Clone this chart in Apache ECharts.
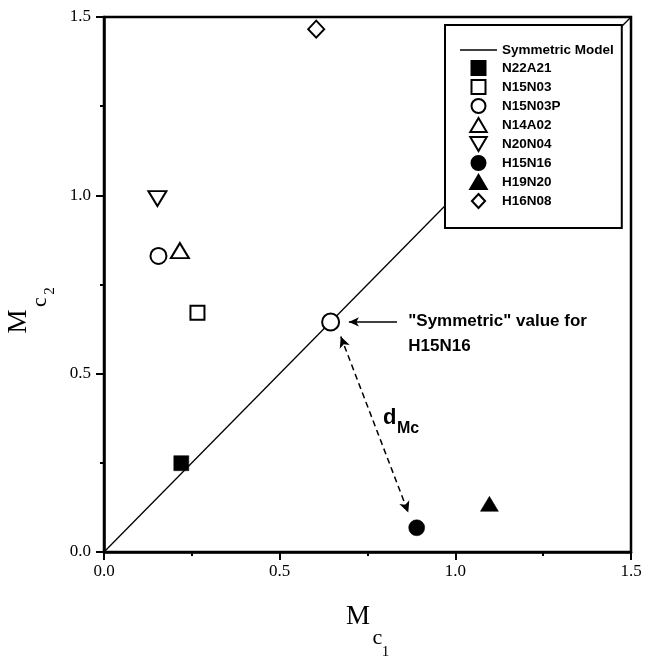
<!DOCTYPE html>
<html>
<head>
<meta charset="utf-8">
<script src="https://cdn.jsdelivr.net/npm/echarts@6/dist/echarts.min.js"></script>
<style>html,body{margin:0;padding:0;background:#fff}#c{width:645px;height:656px}</style>
</head>
<body>
<div id="c"></div>
<script>
// ---- data ----
const seriesNames = ['N22A21','N15N03','N15N03P','N14A02','N20N04','H15N16','H19N20','H16N08'];
const xValues = [0.220, 0.266, 0.155, 0.216, 0.152, 0.890, 1.097, 0.604];
const yValues = [0.249, 0.671, 0.830, 0.845, 0.991, 0.068, 0.135, 1.466];
const modelName = 'Symmetric Model';
const modelX = [0, 1.5];
const modelY = [0, 1.5];
const symmetricPoint = [0.645, 0.645];
const xTicks = [0, 0.5, 1.0, 1.5];
const yTicks = [0, 0.5, 1.0, 1.5];
const annotationTexts = ['"Symmetric" value for\nH15N16', 'd', 'Mc'];
const annotationX = [0.866, 0.794, 0.834];
const annotationY = [0.613, 0.377, 0.346];
const hArrowFrom = [0.834, 0.645];
const hArrowTo = [0.697, 0.645];
const dArrowFrom = [0.674, 0.604];
const dArrowTo = [0.866, 0.111];

// ---- styles ----
const PATH_SQUARE = 'path://M0,0L10,0L10,10L0,10Z';
const PATH_UP = 'path://M10,0L20,17L0,17Z';
const PATH_DOWN = 'path://M0,0L20,0L10,17Z';
const PATH_DIAMOND = 'path://M8,0L16,8.5L8,17L0,8.5Z';
const styles = {
  'N22A21': {symbol:'rect', icon:PATH_SQUARE, size:15, fill:'#000'},
  'N15N03': {symbol:'rect', icon:PATH_SQUARE, size:14, fill:'#fff'},
  'N15N03P': {symbol:'circle', icon:'circle', size:16, fill:'#fff'},
  'N14A02': {symbol:PATH_UP, icon:PATH_UP, size:[18,15], fill:'#fff'},
  'N20N04': {symbol:PATH_DOWN, icon:PATH_DOWN, size:[18,15], fill:'#fff'},
  'H15N16': {symbol:'circle', icon:'circle', size:16, fill:'#000'},
  'H19N20': {symbol:PATH_UP, icon:PATH_UP, size:[18,15], fill:'#000'},
  'H16N08': {symbol:PATH_DIAMOND, icon:PATH_DIAMOND, size:[16,17], fill:'#fff'}
};

const chart = echarts.init(document.getElementById('c'), null, {renderer:'canvas'});
const serif = '"Liberation Serif","Times New Roman",serif';
const sans = '"Liberation Sans",Arial,sans-serif';

const series = [];
series.push({
  name: modelName, type:'line', data: modelX.map((x,i)=>[x, modelY[i]]),
  symbol:'none', itemStyle:{color:'#000'}, lineStyle:{color:'#000', width:1.3}, z:2, silent:true
});
seriesNames.forEach((n,i)=>{
  const st = styles[n];
  const s = {
    name:n, type:'scatter', data:[[xValues[i], yValues[i]]],
    symbol:st.symbol, symbolSize:st.size,
    itemStyle:{color:st.fill, borderColor:'#000', borderWidth: st.fill==='#fff'?2:0.5, opacity:1},
    z:5, silent:true
  };
  if (n === 'H15N16') {
    s.markLine = {
      silent:true, animation:false,
      symbol:['arrow','arrow'], symbolSize:[8,11],
      label:{show:false},
      lineStyle:{color:'#000', width:1.5, type:[6,4], opacity:1},
      data:[[{coord:dArrowFrom},{coord:dArrowTo}]]
    };
  }
  series.push(s);
});
series.push({
  name:'symmetric', type:'scatter', data:[symmetricPoint],
  symbol:'circle', symbolSize:17,
  itemStyle:{color:'#fff', borderColor:'#000', borderWidth:2, opacity:1}, z:6, silent:true,
  markLine:{
    silent:true, animation:false,
    symbol:['none','arrow'], symbolSize:[7,10],
    label:{show:false},
    lineStyle:{color:'#000', width:1.5, type:'solid', opacity:1},
    data:[[{coord:hArrowFrom},{coord:hArrowTo}]]
  }
});
const annFont = [17, 22, 16];
series.push({
  name:'annotations', type:'scatter', silent:true, symbolSize:0,
  itemStyle:{color:'#000', opacity:1}, z:7,
  data: annotationTexts.map((t,i)=>({
    value:[annotationX[i], annotationY[i]],
    label:{show:true, position:'right', distance:0, formatter:t, opacity:1,
      fontFamily:sans, fontSize:annFont[i], fontWeight:'bold', lineHeight: i===0?25:annFont[i], color:'#000', align:'left'}
  }))
});

const axisCommon = {
  type:'value', min:0, max:1.5, interval:0.5,
  axisLine:{show:true, onZero:false, lineStyle:{color:'#000', width:2.5}},
  axisTick:{show:true, inside:false, length:8, lineStyle:{color:'#000', width:2}},
  minorTick:{show:true, splitNumber:2, length:4, lineStyle:{color:'#000', width:2}},
  splitLine:{show:false}, minorSplitLine:{show:false},
  axisLabel:{fontFamily:serif, fontSize:17, color:'#000',
    formatter:(v)=>v.toFixed(1)}
};

const legendData = [{name:modelName, icon:'path://M0,0L37,0L37,1.3L0,1.3Z'}].concat(
  seriesNames.map(n=>({name:n, icon:styles[n].icon})));

chart.setOption({
  animation:false,
  backgroundColor:'#fff',
  grid:{left:104, top:17, width:527, height:535, show:true, borderColor:'#000', borderWidth:2.5, backgroundColor:'transparent'},
  xAxis: Object.assign({}, axisCommon, {axisLabel:Object.assign({}, axisCommon.axisLabel, {margin:11,
      customValues: xTicks})}),
  yAxis: Object.assign({}, axisCommon, {axisLabel:Object.assign({}, axisCommon.axisLabel, {margin:13,
      customValues: yTicks})}),
  legend:{
    show:true, orient:'vertical', left:445, top:25,
    data:legendData,
    itemWidth:37, itemHeight:14, itemGap:3,
    symbolKeepAspect:true,
    padding:[18,8,19,15],
    backgroundColor:'#fff', borderColor:'#000', borderWidth:2,
    textStyle:{fontFamily:sans, fontSize:13.5, fontWeight:'bold', color:'#000'},
    selectedMode:false, z:10
  },
  graphic:[
    {type:'text', x:358, y:616.5, style:{text:'M', font:'27px '+serif, fill:'#000', textAlign:'center', textVerticalAlign:'middle'}},
    {type:'text', x:377.5, y:638, style:{text:'c', font:'22px '+serif, fill:'#000', textAlign:'center', textVerticalAlign:'middle'}},
    {type:'text', x:385.5, y:652, style:{text:'1', font:'15px '+serif, fill:'#000', textAlign:'center', textVerticalAlign:'middle'}},
    {type:'text', x:18.5, y:321.5, rotation:Math.PI/2, style:{text:'M', font:'27px '+serif, fill:'#000', textAlign:'center', textVerticalAlign:'middle'}},
    {type:'text', x:40, y:302, rotation:Math.PI/2, style:{text:'c', font:'22px '+serif, fill:'#000', textAlign:'center', textVerticalAlign:'middle'}},
    {type:'text', x:50, y:291, rotation:Math.PI/2, style:{text:'2', font:'15px '+serif, fill:'#000', textAlign:'center', textVerticalAlign:'middle'}}
  ],
  series: series
});
</script>
</body>
</html>
